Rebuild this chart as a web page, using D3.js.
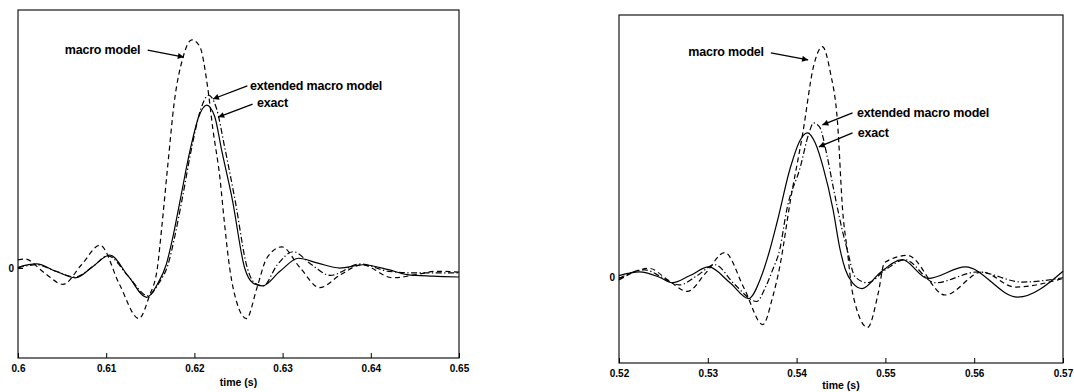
<!DOCTYPE html>
<html>
<head>
<meta charset="utf-8">
<script src="https://cdn.jsdelivr.net/npm/d3@7/dist/d3.min.js"></script>
<style>
  body { margin: 0; background: #fff; }
  svg { display: block; }
  text { font-family: "Liberation Sans", Arial, Helvetica, sans-serif; font-weight: bold; fill: #000; }
</style>
</head>
<body>
<svg id="chart" width="1074" height="392"></svg>
<script>
// ---- data (time in s, response in arbitrary units, exact peak ~ 1) ----
const leftTicks = [0.6, 0.61, 0.62, 0.63, 0.64, 0.65];
const rightTicks = [0.52, 0.53, 0.54, 0.55, 0.56, 0.57];

const leftExact = [
  [0.6000, 0.005], [0.6021, 0.025], [0.6043, -0.02], [0.6065, -0.06], [0.6085, 0.01],
  [0.6104, 0.08], [0.6125, -0.05], [0.6146, -0.18], [0.6158, -0.10], [0.6168, 0.02],
  [0.6176, 0.20], [0.6184, 0.42], [0.6195, 0.72], [0.6205, 0.93], [0.6214, 1.00],
  [0.6223, 0.93], [0.6231, 0.72], [0.6243, 0.42], [0.6257, 0.00], [0.6266, -0.09],
  [0.6277, -0.11], [0.6297, -0.02], [0.6318, 0.06], [0.6340, 0.03], [0.6365, 0.00],
  [0.6391, 0.02], [0.6420, -0.01], [0.6441, -0.04], [0.6470, -0.05], [0.6500, -0.055]
];
const leftExtended = [
  [0.6000, 0.00], [0.6021, 0.02], [0.6043, -0.02], [0.6065, -0.055], [0.6085, 0.01],
  [0.6102, 0.075], [0.6125, -0.05], [0.6147, -0.17], [0.6160, -0.09], [0.6170, 0.02],
  [0.6178, 0.20], [0.6186, 0.42], [0.6197, 0.74], [0.6207, 0.97], [0.6216, 1.06],
  [0.6225, 0.98], [0.6234, 0.75], [0.6246, 0.42], [0.6260, 0.00], [0.6268, -0.09],
  [0.6278, -0.11], [0.6294, 0.02], [0.6312, 0.10], [0.6333, 0.02], [0.6354, -0.045],
  [0.6388, 0.025], [0.6420, -0.02], [0.6450, -0.03], [0.6500, -0.03]
];
const leftMacro = [
  [0.6000, 0.05], [0.6008, 0.055], [0.6030, -0.03], [0.6051, -0.10], [0.6072, 0.02],
  [0.6093, 0.14], [0.6115, -0.10], [0.6137, -0.31], [0.6149, -0.17], [0.6158, 0.00],
  [0.6163, 0.25], [0.6170, 0.64], [0.6177, 1.01], [0.6187, 1.29], [0.6197, 1.40],
  [0.6206, 1.36], [0.6215, 1.11], [0.6221, 0.85], [0.6229, 0.55], [0.6234, 0.28],
  [0.6240, 0.00], [0.6248, -0.21], [0.6259, -0.31], [0.6271, -0.12], [0.6282, 0.06],
  [0.6299, 0.13], [0.6320, 0.00], [0.6342, -0.12], [0.6366, -0.04], [0.6390, 0.02],
  [0.6425, -0.06], [0.6452, -0.04], [0.6475, -0.02], [0.6500, -0.025]
];

const rightExact = [
  [0.5200, 0.01], [0.5223, 0.035], [0.5245, 0.00], [0.5260, -0.04], [0.5280, 0.01],
  [0.5301, 0.07], [0.5325, -0.04], [0.5346, -0.15], [0.5360, 0.00], [0.5369, 0.17],
  [0.5378, 0.38], [0.5393, 0.76], [0.5404, 0.95], [0.5412, 1.00], [0.5421, 0.93],
  [0.5430, 0.76], [0.5441, 0.47], [0.5449, 0.19], [0.5455, 0.05], [0.5463, -0.04],
  [0.5474, -0.08], [0.5494, 0.03], [0.5519, 0.12], [0.5548, -0.01], [0.5590, 0.07],
  [0.5649, -0.14], [0.5700, 0.04]
];
const rightExtended = [
  [0.5200, -0.01], [0.5229, 0.05], [0.5248, 0.00], [0.5268, -0.055], [0.5288, 0.01],
  [0.5308, 0.085], [0.5330, -0.05], [0.5355, -0.17], [0.5365, -0.07], [0.5373, 0.05],
  [0.5381, 0.19], [0.5389, 0.47], [0.5404, 0.76], [0.5414, 1.00], [0.5419, 1.07],
  [0.5426, 1.04], [0.5434, 0.85], [0.5442, 0.60], [0.5452, 0.31], [0.5457, 0.19],
  [0.5466, 0.00], [0.5480, -0.04], [0.5500, 0.05], [0.5522, 0.12], [0.5556, -0.04],
  [0.5604, 0.035], [0.5654, -0.035], [0.5700, -0.005]
];
const rightMacro = [
  [0.5200, -0.02], [0.5234, 0.06], [0.5255, -0.02], [0.5277, -0.10], [0.5298, 0.03],
  [0.5319, 0.17], [0.5341, -0.08], [0.5362, -0.33], [0.5373, -0.14], [0.5381, 0.07],
  [0.5393, 0.53], [0.5407, 1.00], [0.5419, 1.46], [0.5429, 1.60], [0.5438, 1.42],
  [0.5446, 1.08], [0.5452, 0.45], [0.5457, 0.19], [0.5463, -0.11], [0.5480, -0.35],
  [0.5492, -0.11], [0.5499, 0.10], [0.5525, 0.15], [0.5567, -0.125], [0.5609, 0.035],
  [0.5646, -0.07], [0.5700, -0.01]
];

// annotations: label text, text anchor point, arrow start, arrow tip (data units)
const leftNotes = [
  { text: "macro model", at: [0.6053, 1.31], from: [0.6147, 1.337], to: [0.6188, 1.294] },
  { text: "extended macro model", at: [0.6263, 1.09], from: [0.6260, 1.117], to: [0.6221, 1.037] },
  { text: "exact", at: [0.6271, 0.99], from: [0.6266, 1.006], to: [0.6227, 0.926] }
];
const rightNotes = [
  { text: "macro model", at: [0.5278, 1.535], from: [0.5371, 1.556], to: [0.5413, 1.507] },
  { text: "extended macro model", at: [0.5468, 1.11], from: [0.5463, 1.139], to: [0.5429, 1.056] },
  { text: "exact", at: [0.5469, 0.97], from: [0.5463, 1.0], to: [0.5425, 0.903] }
];

const panels = [
  { left: 18, right: 459, top: 10, bottom: 358, xDomain: [0.6, 0.65], yDomain: [-0.552, 1.583],
    ticks: leftTicks, exact: leftExact, extended: leftExtended, macro: leftMacro, notes: leftNotes, titleY: 386 },
  { left: 619, right: 1063, top: 15, bottom: 363, xDomain: [0.52, 0.57], yDomain: [-0.597, 1.819],
    ticks: rightTicks, exact: rightExact, extended: rightExtended, macro: rightMacro, notes: rightNotes, titleY: 389 }
];

const svg = d3.select("#chart");

svg.append("defs").append("marker")
    .attr("id", "arrow")
    .attr("viewBox", "0 0 10 10")
    .attr("refX", 10)
    .attr("refY", 5)
    .attr("markerUnits", "userSpaceOnUse")
    .attr("markerWidth", 9)
    .attr("markerHeight", 6)
    .attr("orient", "auto")
  .append("path")
    .attr("d", "M0,0L10,5L0,10z")
    .attr("fill", "#000");

panels.forEach(p => {
    const x = d3.scaleLinear().domain(p.xDomain).range([p.left, p.right]);
    const y = d3.scaleLinear().domain(p.yDomain).range([p.bottom, p.top]);
    const g = svg.append("g");

    // frame
    g.append("rect")
        .attr("x", p.left).attr("y", p.top)
        .attr("width", p.right - p.left).attr("height", p.bottom - p.top)
        .attr("fill", "none").attr("stroke", "#000").attr("stroke-width", 1.1);

    // axes
    const xAxis = g.append("g")
        .attr("transform", `translate(0,${p.bottom})`)
        .call(d3.axisBottom(x).tickValues(p.ticks).tickSize(-5).tickPadding(7)
            .tickFormat(d => String(+d.toFixed(2))));
    const yAxis = g.append("g")
        .attr("transform", `translate(${p.left},0)`)
        .call(d3.axisLeft(y).tickValues([0]).tickSize(-5).tickPadding(4)
            .tickFormat(d3.format("d")));
    [xAxis, yAxis].forEach(a => {
        a.select(".domain").remove();
        a.selectAll("line").attr("stroke", "#000");
        a.selectAll("text").style("font-size", "10px").attr("font-family", null);
    });

    g.append("text")
        .attr("x", (p.left + p.right) / 2)
        .attr("y", p.titleY)
        .attr("text-anchor", "middle")
        .style("font-size", "10.5px")
        .text("time (s)");

    // curves
    const line = d3.line()
        .x(d => x(d[0]))
        .y(d => y(d[1]))
        .curve(d3.curveMonotoneX);

    const series = [
        { data: p.macro, dash: "5,3.5" },
        { data: p.extended, dash: "6,2.5,1.3,2.5" },
        { data: p.exact, dash: null }
    ];
    g.selectAll(".curve")
        .data(series)
        .join("path")
        .attr("class", "curve")
        .attr("d", d => line(d.data))
        .attr("fill", "none")
        .attr("stroke", "#000")
        .attr("stroke-width", 1.2)
        .attr("stroke-dasharray", d => d.dash);

    // annotations
    g.selectAll(".note-arrow")
        .data(p.notes)
        .join("line")
        .attr("class", "note-arrow")
        .attr("x1", d => x(d.from[0])).attr("y1", d => y(d.from[1]))
        .attr("x2", d => x(d.to[0])).attr("y2", d => y(d.to[1]))
        .attr("stroke", "#000")
        .attr("stroke-width", 1.3)
        .attr("marker-end", "url(#arrow)");

    g.selectAll(".note-text")
        .data(p.notes)
        .join("text")
        .attr("class", "note-text")
        .attr("x", d => x(d.at[0]))
        .attr("y", d => y(d.at[1]))
        .style("font-size", "12.5px")
        .style("letter-spacing", "-0.2px")
        .text(d => d.text);
});
</script>
</body>
</html>
